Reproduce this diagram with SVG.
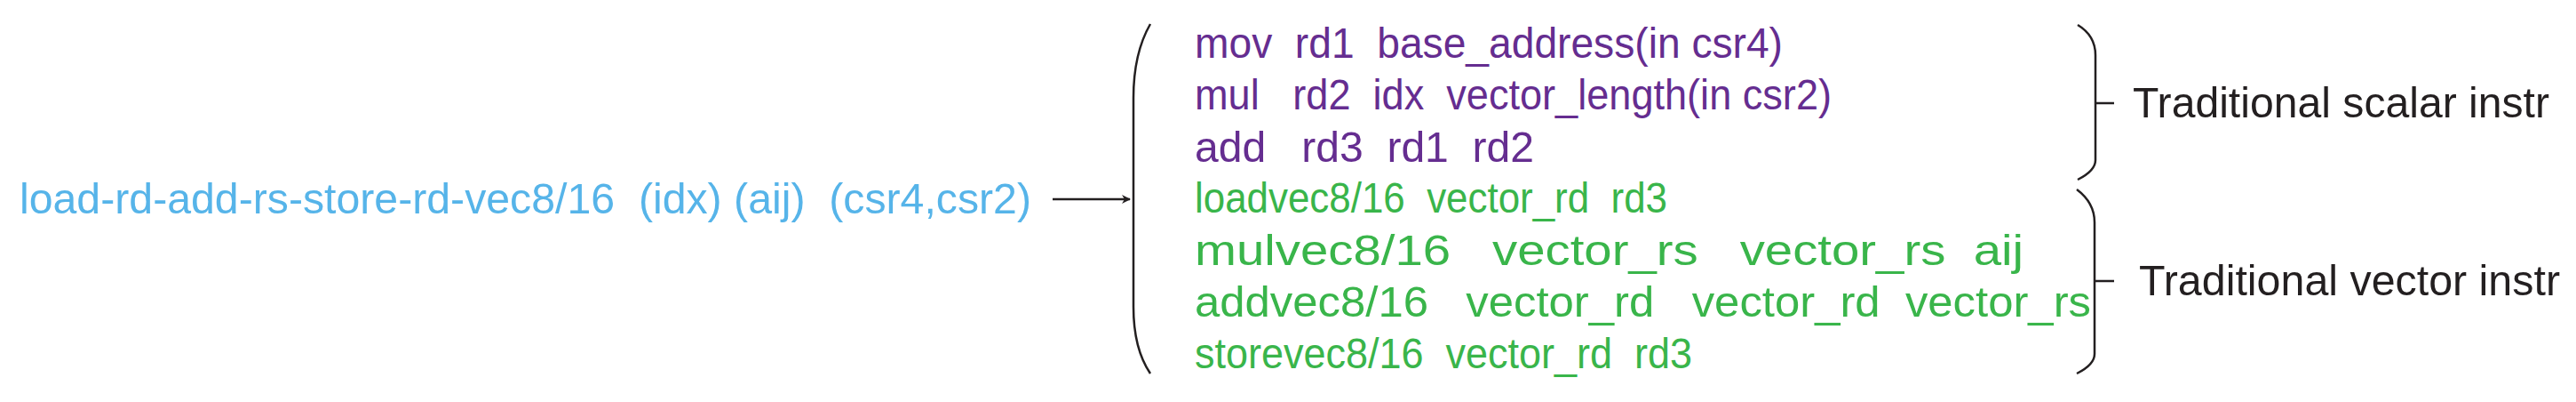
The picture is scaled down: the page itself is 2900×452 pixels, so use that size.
<svg xmlns="http://www.w3.org/2000/svg" width="2900" height="452" viewBox="0 0 2900 452">
<defs><marker id="ah" markerWidth="10" markerHeight="10" refX="9" refY="5" orient="auto" markerUnits="userSpaceOnUse"><path d="M0,0 L10,5 L0,10 L3,5 Z" fill="#231f20"/></marker>
<style>
text{font-family:"Liberation Sans",Arial,sans-serif;font-size:48px;white-space:pre}
.p{fill:#652d90}.g{fill:#39b54a}.b{fill:#56b4e9}.k{fill:#231f20}
.br{fill:none;stroke:#231f20;stroke-width:2.5}
</style></defs>
<rect width="2900" height="452" fill="#fff"/>
<g id="input"><text class="b" x="22" y="240" textLength="1139" lengthAdjust="spacingAndGlyphs">load-rd-add-rs-store-rd-vec8/16  (idx) (aij)  (csr4,csr2)</text></g>
<g id="connectors"><line x1="1185" y1="224" x2="1272" y2="224" stroke="#231f20" stroke-width="2.5" marker-end="url(#ah)"/></g>
<g id="left-brace"><path class="br" d="M1295,27 Q1276,60 1276,110 L1276,345 Q1276,392 1295,420"/></g>
<g id="instrs" xml:space="preserve">
<text class="p" x="1345" y="65" textLength="662" lengthAdjust="spacingAndGlyphs">mov  rd1  base_address(in csr4)</text>
<text class="p" x="1345" y="123" textLength="717" lengthAdjust="spacingAndGlyphs">mul   rd2  idx  vector_length(in csr2)</text>
<text class="p" x="1345" y="182" textLength="382" lengthAdjust="spacingAndGlyphs">add   rd3  rd1  rd2</text>
<text class="g" x="1345" y="239" textLength="532" lengthAdjust="spacingAndGlyphs">loadvec8/16  vector_rd  rd3</text>
<text class="g" x="1345" y="298" textLength="933" lengthAdjust="spacingAndGlyphs">mulvec8/16   vector_rs   vector_rs  aij</text>
<text class="g" x="1345" y="356" textLength="1009" lengthAdjust="spacingAndGlyphs">addvec8/16   vector_rd   vector_rd  vector_rs</text>
<text class="g" x="1345" y="414" textLength="560" lengthAdjust="spacingAndGlyphs">storevec8/16  vector_rd  rd3</text>
</g>
<g id="scalar-brace"><path class="br" d="M2339,28 Q2359,40 2359,62 L2359,180 Q2359,192 2339,202 M2359,116 L2380,116"/>
<text class="k" x="2401" y="132" textLength="469" lengthAdjust="spacingAndGlyphs">Traditional scalar instr</text></g>
<g id="vector-brace"><path class="br" d="M2338,213 Q2358,228 2358,250 L2358,398 Q2358,410 2338,420 M2358,316 L2380,316"/>
<text class="k" x="2408" y="332" textLength="474" lengthAdjust="spacingAndGlyphs">Traditional vector instr</text></g>
</svg>
